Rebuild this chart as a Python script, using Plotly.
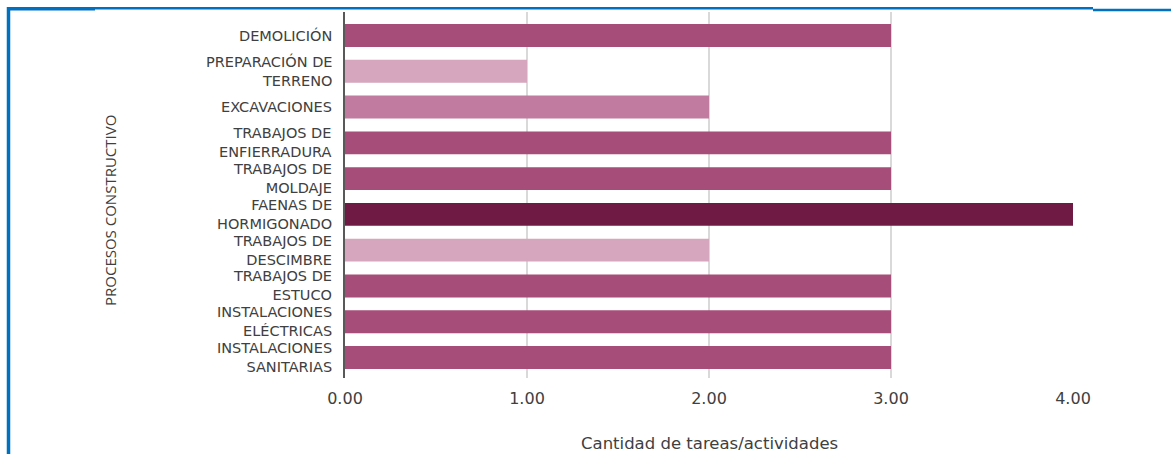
import plotly.graph_objects as go

categories = ["DEMOLICIÓN", "PREPARACIÓN DE<br>TERRENO", "EXCAVACIONES",
              "TRABAJOS DE<br>ENFIERRADURA", "TRABAJOS DE<br>MOLDAJE",
              "FAENAS DE<br>HORMIGONADO", "TRABAJOS DE<br>DESCIMBRE",
              "TRABAJOS DE<br>ESTUCO", "INSTALACIONES<br>ELÉCTRICAS",
              "INSTALACIONES<br>SANITARIAS"]
values = [3, 1, 2, 3, 3, 4, 2, 3, 3, 3]
colors = ["#A64D79", "#D5A6BD", "#C27BA0", "#A64D79", "#A64D79",
          "#6E1A45", "#D5A6BD", "#A64D79", "#A64D79", "#A64D79"]
x_ticks = [0, 1, 2, 3, 4]
x_tick_text = ["0.00", "1.00", "2.00", "3.00", "4.00"]
x_title = "Cantidad de tareas/actividades"
y_title = "PROCESOS CONSTRUCTIVO"

W, H = 1171, 454
L, R = 345, 1073
T, B = 12, 378
PITCH = 35.78
TXT = "#404040"
FONT = "DejaVu Sans"

fig = go.Figure(go.Bar(
    x=values, y=categories, orientation="h",
    marker=dict(color=colors, line=dict(width=0)),
    width=0.64,
))

def px_x(p):
    return (p - L) / (R - L)

def px_y(p):
    return (B - p) / (B - T)

top_extra = (17.6 - T) / PITCH
bot_extra = (B - 375.4) / PITCH

annotations = []
for cat in categories:
    annotations.append(dict(
        text=cat, xref="paper", yref="y", x=0, y=cat,
        xanchor="right", yanchor="middle", align="right", xshift=-11,
        showarrow=False, font=dict(family=FONT, size=14.5, color=TXT)))

annotations.append(dict(
    text=y_title, xref="paper", yref="paper", x=px_x(110), y=px_y(211),
    xanchor="center", yanchor="middle", textangle=-90, showarrow=False,
    font=dict(family="Open Sans", size=15, color=TXT)))
annotations.append(dict(
    text=x_title, xref="paper", yref="paper", x=0.5, y=px_y(443),
    xanchor="center", yanchor="middle", showarrow=False,
    font=dict(family=FONT, size=16.5, color=TXT)))

blue = "#0070C0"
shapes = [
    dict(type="line", xref="paper", yref="paper", x0=px_x(8.5), x1=px_x(8.5),
         y0=px_y(7), y1=px_y(460), line=dict(color=blue, width=3.5)),
    dict(type="line", xref="paper", yref="paper", x0=px_x(7), x1=px_x(95),
         y0=px_y(8.7), y1=px_y(8.7), line=dict(color=blue, width=3.5)),
    dict(type="line", xref="paper", yref="paper", x0=px_x(95), x1=px_x(1093),
         y0=px_y(8.2), y1=px_y(8.2), line=dict(color=blue, width=2.5)),
    dict(type="line", xref="paper", yref="paper", x0=px_x(1093), x1=px_x(1175),
         y0=px_y(10), y1=px_y(10), line=dict(color=blue, width=2.5)),
]

fig.update_layout(
    width=W, height=H,
    margin=dict(l=L, r=W - R, t=T, b=H - B, pad=0),
    paper_bgcolor="white", plot_bgcolor="white",
    font=dict(family=FONT, color=TXT, size=15),
    showlegend=False,
    shapes=shapes,
    annotations=annotations,
    xaxis=dict(range=[0, 4], tickvals=x_ticks, ticktext=x_tick_text,
               showgrid=True, gridcolor="#D9D9D9", gridwidth=1.5,
               zeroline=False, showline=False, ticks="",
               ticklabelstandoff=9,
               tickfont=dict(family=FONT, size=16, color=TXT)),
    yaxis=dict(range=[len(categories) - 0.5 + bot_extra, -0.5 - top_extra],
               showgrid=False, zeroline=False, showticklabels=False,
               showline=True, linecolor="#595959", linewidth=1.5, ticks=""),
)

fig.write_html("out.html")
